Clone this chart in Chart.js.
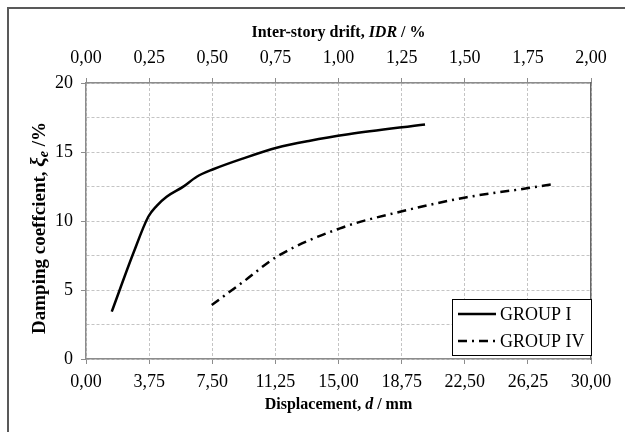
<!DOCTYPE html>
<html>
<head>
<meta charset="utf-8">
<script src="https://cdn.jsdelivr.net/npm/chart.js@4"></script>
<style>
  html, body { margin: 0; padding: 0; background: #fff; }
  #wrap { width: 625px; height: 432px; }
</style>
</head>
<body>
<div id="wrap"><canvas id="myChart" width="625" height="432"></canvas></div>
<script>
// displacement d (mm) vs damping coefficient (%)
const group1X = [1.53, 2.81, 3.70, 4.20, 4.79, 5.78, 6.58, 7.56, 9.35, 11.33, 13.31, 15.59, 20.14];
const group1Y = [3.43, 7.66, 10.31, 11.10, 11.76, 12.49, 13.21, 13.75, 14.54, 15.31, 15.82, 16.28, 17.00];
const group4X = [7.47, 9.35, 11.33, 15.09, 18.66, 22.62, 26.19, 27.67];
const group4Y = [3.91, 5.60, 7.41, 9.47, 10.67, 11.72, 12.37, 12.66];
const seriesNames = ['GROUP I', 'GROUP IV'];

const serif = "'Liberation Serif', 'Times New Roman', serif";
const gridCol = '#c4c4c4';
const axisCol = '#8c8c8c';
const tickFont = { family: serif, size: 18 };

function toPoints(xs, ys) {
    return xs.map((x, i) => ({ x: x, y: ys[i] }));
}

const fmt = v => v.toFixed(2).replace('.', ',');

// draw a line of text made of styled pieces, centred on (cx, cy)
function drawRich(c, parts, cx, cy) {
    let w = 0;
    parts.forEach(p => { c.font = p.font; w += c.measureText(p.t).width; });
    let x = cx - w / 2;
    parts.forEach(p => {
        c.font = p.font;
        c.fillText(p.t, x, cy + (p.dy || 0));
        x += c.measureText(p.t).width;
    });
}

const decor = {
    id: 'decor',
    beforeDraw(chart) {
        const c = chart.ctx;
        c.save();
        c.fillStyle = '#fff';
        c.fillRect(0, 0, chart.width, chart.height);
        // outer frame
        c.strokeStyle = '#595959';
        c.lineWidth = 2;
        c.strokeRect(8, 8, 700, 700);
        c.restore();
    },
    afterDraw(chart) {
        const c = chart.ctx;
        const a = chart.chartArea;
        c.save();
        c.fillStyle = '#000';
        c.textBaseline = 'middle';
        // top title
        drawRich(c, [
            { t: 'Inter-story drift, ', font: 'bold 16px ' + serif },
            { t: 'IDR', font: 'italic bold 16px ' + serif },
            { t: ' / %', font: 'bold 16px ' + serif }
        ], (a.left + a.right) / 2, 33);
        // bottom title
        drawRich(c, [
            { t: 'Displacement, ', font: 'bold 16px ' + serif },
            { t: 'd', font: 'italic bold 16px ' + serif },
            { t: ' / mm', font: 'bold 16px ' + serif }
        ], (a.left + a.right) / 2, 405);
        // y title
        c.translate(40, 228);
        c.rotate(-Math.PI / 2);
        drawRich(c, [
            { t: 'Damping coeffcient, ', font: 'bold 19px ' + serif },
            { t: 'ξ', font: 'italic bold 21px ' + serif },
            { t: 'e', font: 'italic bold 14px ' + serif, dy: 4 },
            { t: ' /%', font: 'bold 19px ' + serif }
        ], 0, 0);
        c.restore();

        // legend box
        c.save();
        const lx = 452, ly = 299, lw = a.right - 452, lh = 56;
        c.fillStyle = '#fff';
        c.fillRect(lx, ly, lw, lh);
        c.strokeStyle = '#000';
        c.lineWidth = 1;
        c.strokeRect(lx + 0.5, ly + 0.5, lw, lh);
        chart.data.datasets.forEach((ds, i) => {
            const yy = ly + 15 + i * 27;
            c.strokeStyle = ds.borderColor;
            c.lineWidth = ds.borderWidth;
            c.setLineDash(ds.borderDash || []);
            c.beginPath();
            c.moveTo(lx + 6, yy);
            c.lineTo(lx + 44, yy);
            c.stroke();
            c.setLineDash([]);
            c.fillStyle = '#000';
            c.font = '18px ' + serif;
            c.textBaseline = 'middle';
            c.fillText(ds.label, lx + 48, yy + 1);
        });
        c.restore();
    }
};

const ctx = document.getElementById('myChart');

let chart = new Chart(ctx, {
    type: 'scatter',
    data: {
        datasets: [
            {
                label: seriesNames[0],
                data: toPoints(group1X, group1Y),
                showLine: true,
                borderColor: '#000',
                borderWidth: 2.5,
                pointRadius: 0,
                cubicInterpolationMode: 'monotone'
            },
            {
                label: seriesNames[1],
                data: toPoints(group4X, group4Y),
                showLine: true,
                borderColor: '#000',
                borderWidth: 2.5,
                borderDash: [9, 5, 2, 5],
                pointRadius: 0,
                cubicInterpolationMode: 'monotone'
            }
        ]
    },
    options: {
        responsive: false,
        animation: false,
        layout: { padding: { left: 46, right: 34, top: 45, bottom: 33 } },
        plugins: { legend: { display: false }, tooltip: { enabled: false } },
        scales: {
            x: {
                type: 'linear', position: 'bottom', min: 0, max: 30,
                afterFit: s => { s.height = 40; },
                ticks: { stepSize: 3.75, callback: v => fmt(v), color: '#000', font: tickFont, padding: 7, maxRotation: 0 },
                grid: { color: gridCol, tickColor: axisCol, tickLength: 5 },
                border: { color: axisCol, width: 1.5, dash: [3, 2] }
            },
            x2: {
                type: 'linear', position: 'top', min: 0, max: 2,
                afterFit: s => { s.height = 38; },
                ticks: { stepSize: 0.25, callback: v => fmt(v), color: '#000', font: tickFont, padding: 9, maxRotation: 0 },
                grid: { drawOnChartArea: false, tickColor: axisCol, tickLength: 5 },
                border: { color: axisCol, width: 1.5 }
            },
            y: {
                min: 0, max: 20,
                afterFit: s => { s.width = 40; },
                ticks: { stepSize: 2.5, callback: v => (v % 5 === 0 ? String(v) : ''), color: '#000', font: tickFont, padding: 8 },
                grid: {
                    color: gridCol,
                    tickColor: c => (c.tick && c.tick.value % 5 === 0 ? axisCol : 'rgba(0,0,0,0)'),
                    tickLength: 5
                },
                border: { color: axisCol, width: 1.5, dash: [3, 2] }
            },
            y2: {
                position: 'right', min: 0, max: 20,
                afterFit: s => { s.width = 0; },
                ticks: { display: false },
                grid: { drawOnChartArea: false, drawTicks: false },
                border: { color: '#666', width: 1.5 }
            }
        }
    },
    plugins: [decor]
});
</script>
</body>
</html>
